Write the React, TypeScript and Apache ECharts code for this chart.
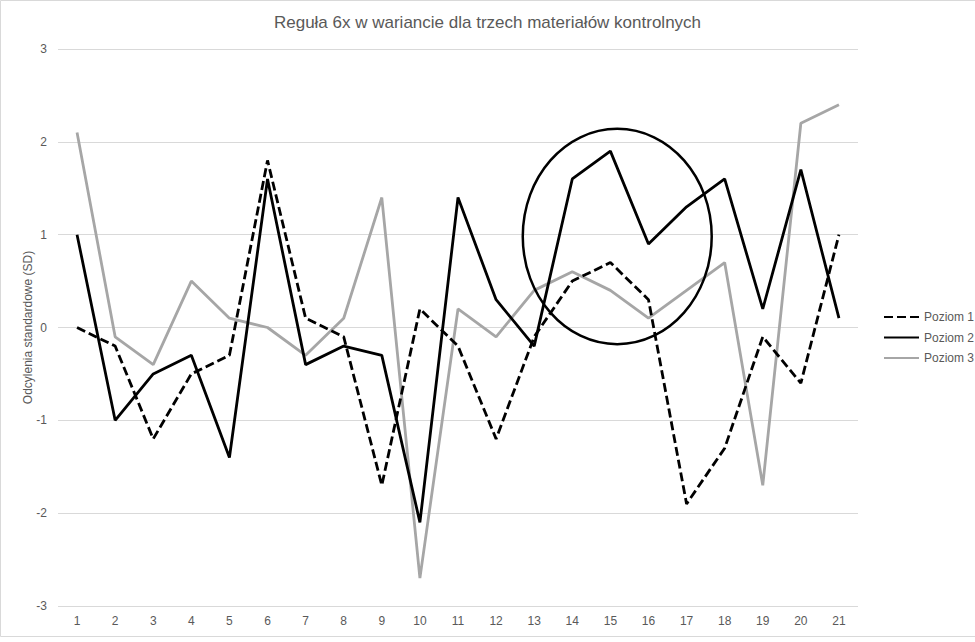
import { useEffect, useRef } from "react";
import * as echarts from "echarts";

const categories = Array.from({ length: 21 }, (_, i) => String(i + 1));
const poziom1 = [0, -0.2, -1.2, -0.5, -0.3, 1.8, 0.1, -0.1, -1.7, 0.2, -0.2, -1.2, -0.1, 0.5, 0.7, 0.3, -1.9, -1.3, -0.1, -0.6, 1.0];
const poziom2 = [1.0, -1.0, -0.5, -0.3, -1.4, 1.6, -0.4, -0.2, -0.3, -2.1, 1.4, 0.3, -0.2, 1.6, 1.9, 0.9, 1.3, 1.6, 0.2, 1.7, 0.1];
const poziom3 = [2.1, -0.1, -0.4, 0.5, 0.1, 0.0, -0.3, 0.1, 1.4, -2.7, 0.2, -0.1, 0.4, 0.6, 0.4, 0.1, 0.4, 0.7, -1.7, 2.2, 2.4];

// zaznaczenie reguły 6x: środek (indeks kategorii, wartość) i półosie
const ringCenter = [14.18, 0.98];
const ringRadius = [2.48, 1.16];

const FONT = "Liberation Sans";
const TEXT = "#595959";

const App = () => {
  const chartRef = useRef(null);

  useEffect(() => {
    document.body.style.margin = "0";
    const chart = echarts.init(chartRef.current, null, { renderer: "svg" });

    const option: any = {
      animation: false,
      textStyle: { fontFamily: FONT },
      title: {
        text: "Reguła 6x w wariancie dla trzech materiałów kontrolnych",
        left: "center",
        top: 9,
        textStyle: { fontFamily: FONT, fontSize: 17, fontWeight: "normal", color: TEXT },
      },
      legend: {
        orient: "vertical",
        left: 878,
        top: 306,
        itemWidth: 35,
        itemHeight: 14,
        itemGap: 8.5,
        itemStyle: { opacity: 0 },
        textStyle: { fontFamily: FONT, fontSize: 12, color: TEXT },
        data: ["Poziom 1", "Poziom 2", "Poziom 3"],
      },
      grid: { left: 58, right: 117, top: 49, bottom: 36 },
      xAxis: {
        type: "category",
        boundaryGap: true,
        data: categories,
        axisLine: { show: false },
        axisTick: { show: false },
        axisLabel: { fontFamily: FONT, fontSize: 12, color: TEXT, margin: 9 },
      },
      yAxis: {
        type: "value",
        min: -3,
        max: 3,
        interval: 1,
        name: "Odcylenia standardowe (SD)",
        nameLocation: "middle",
        nameGap: 24,
        nameMoveOverlap: false,
        nameTextStyle: { fontFamily: FONT, fontSize: 12, color: TEXT },
        axisLabel: { fontFamily: FONT, fontSize: 12, color: TEXT, margin: 11 },
        splitLine: { lineStyle: { color: "#d9d9d9", width: 1 } },
      },
      series: [
        {
          name: "Poziom 1",
          type: "line",
          data: poziom1,
          symbol: "none",
          lineStyle: { color: "#000000", width: 2.8, type: [9, 4] },
          itemStyle: { color: "#000000" },
        },
        {
          name: "Poziom 2",
          type: "line",
          data: poziom2,
          symbol: "none",
          lineStyle: { color: "#000000", width: 2.8 },
          itemStyle: { color: "#000000" },
        },
        {
          name: "Poziom 3",
          type: "line",
          data: poziom3,
          symbol: "none",
          lineStyle: { color: "#a6a6a6", width: 2.8 },
          itemStyle: { color: "#a6a6a6" },
          z: 1,
        },
      ],
    };

    chart.setOption(option);

    // oś kategorii zaokrągla indeksy, więc interpolujemy między sąsiednimi punktami
    const p0 = chart.convertToPixel({ gridIndex: 0 }, [0, 0]);
    const p1 = chart.convertToPixel({ gridIndex: 0 }, [1, 1]);
    const stepX = p1[0] - p0[0];
    const stepY = p0[1] - p1[1];
    const cx = p0[0] + ringCenter[0] * stepX;
    const cy = p0[1] - ringCenter[1] * stepY;

    chart.setOption({
      graphic: [
        {
          type: "rect",
          shape: { x: 0.5, y: 0.5, width: 980, height: 636 },
          style: { fill: "none", stroke: "#d9d9d9", lineWidth: 1 },
          silent: true,
        },
        {
          type: "ellipse",
          shape: { cx, cy, rx: ringRadius[0] * stepX, ry: ringRadius[1] * stepY },
          style: { fill: "none", stroke: "#000000", lineWidth: 2.5 },
          z: 100,
        },
      ],
    });

    return () => {
      chart.dispose();
    };
  }, []);

  return <div ref={chartRef} style={{ width: "975px", height: "642px" }} />;
};

export default App;
